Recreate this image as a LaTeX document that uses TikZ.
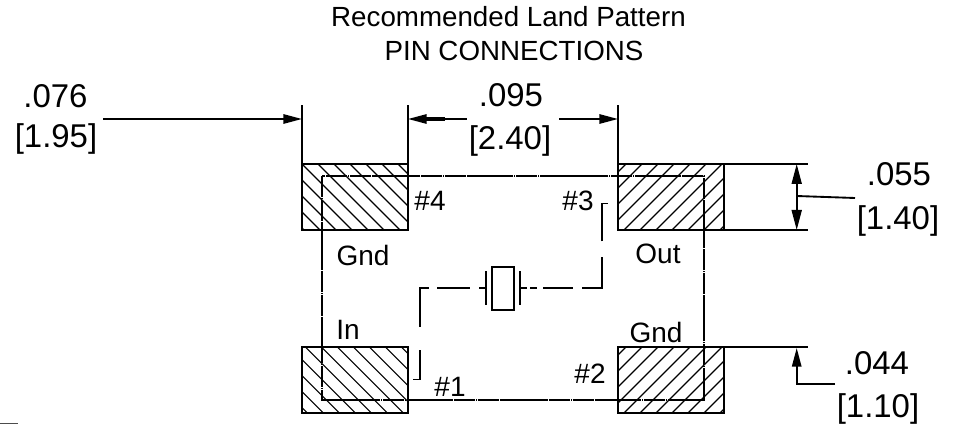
\documentclass[tikz,border=0pt]{standalone}
\usepackage{fontspec}
\setmainfont{Liberation Sans}
\usetikzlibrary{arrows.meta}
\tikzset{
  x=0.75pt,y=-0.75pt,
  hatchline/.style={line width=0.9pt,black},
  padbase/.style={draw=black,line width=1.6pt,minimum width=79.5pt,minimum height=49pt,inner sep=0pt,outer sep=0pt},
  padA/.style={padbase,path picture={
    \foreach \k in {-6,...,8}
      \draw[hatchline] ([xshift=#1*0.75pt+\k*12pt]path picture bounding box.north west) -- ++(100,100);}},
  padB/.style={padbase,path picture={
    \foreach \k in {-2,...,12}
      \draw[hatchline] ([xshift=#1*0.75pt+\k*12pt]path picture bounding box.north west) -- ++(-100,100);}},
  outline/.style={line width=1.2pt,dash pattern=on 16pt off 0.4pt on 1pt off 0.4pt},
  wire/.style={line width=1.3pt,line cap=butt,line join=miter},
  dimline/.style={line width=1.4pt},
  tiph/.style={-{Triangle[length=14pt,width=7pt]}},
  tipboth/.style={{Triangle[length=15pt,width=7.5pt]}-{Triangle[length=15pt,width=7.5pt]}},
  tipv/.style={-{Triangle[length=14pt,width=7pt]}},
  dimtext/.style={font=\fontsize{24.7}{24.7}\selectfont,anchor=base,inner sep=0pt,text=black},
  lbl/.style={font=\fontsize{21}{21}\selectfont,anchor=base,inner sep=0pt,text=black},
  titletext/.style={font=\fontsize{20.8}{20.8}\selectfont,anchor=base,inner sep=0pt,text=black},
}
\begin{document}
\begin{tikzpicture}
\useasboundingbox (0,0) rectangle (957,424);
% pads
\node[padA=0.3] (p4) at (355,197) {};
\node[padB=7.7] (p3) at (671,197) {};
\node[padA=3.7] (p1) at (355,380) {};
\node[padB=7.7] (p2) at (671,380) {};
% package outline
\draw[outline] (322,176) rectangle (704,400);
% crystal
\node[draw=black,line width=1.3pt,minimum width=17pt,minimum height=32pt,inner sep=0pt,outer sep=0pt] (xtal) at (503,288.5) {};
\coordinate (plL1) at (486,271); \coordinate (plL2) at (486,305);
\coordinate (plR1) at (520,271); \coordinate (plR2) at (520,305);
\draw[wire] (plL1) -- (plL2);
\draw[wire] (plR1) -- (plR2);
% dashed wire
\draw[wire] (413,379.5) -- (420,379.5) -- (420,350);
\draw[wire] (420,326.5) -- (420,288) -- (429,288);
\draw[wire] (437,288) -- (470,288);
\draw[wire] (479,288) -- (486,288);
\draw[wire] (520,288) -- (527,288);
\draw[wire] (530,288) -- (537,288);
\draw[wire] (543,288) -- (573,288);
\draw[wire] (582,288) -- (602,288) -- (602,257);
\draw[wire] (602,241.5) -- (602,203.5) -- (608,203.5);
% extension lines
\draw[dimline] (p4.north west) -- +(0,-59) coordinate (e1);
\draw[dimline] (p4.north east) -- +(0,-59) coordinate (e2);
\draw[dimline] (p3.north west) -- +(0,-59) coordinate (e3);
\draw[dimline] (p3.north east) -- +(84,0) coordinate (e4);
\draw[dimline] (p3.south east) -- +(84,0) coordinate (e5);
\draw[dimline] (p2.north east) -- +(84,0) coordinate (e6);
% text
\node[titletext] (t1) at (508.5,27) {Recommended Land Pattern};
\node[titletext] (t2) at (514,61) {PIN CONNECTIONS};
\node[dimtext] (d076) at (55.5,108) {.076};
\node[dimtext] (d195) at (56,148) {[1.95]};
\node[dimtext] (d095) at (511,107) {.095};
\node[dimtext] (d240) at (510,150) {[2.40]};
\node[dimtext] (d055) at (899,186) {.055};
\node[dimtext] (d140) at (898,229) {[1.40]};
\node[dimtext] (d044) at (877,374) {.044};
\node[dimtext] (d110) at (878,417) {[1.10]};
\node[lbl] at (430,210) (n4) {\#4};
\node[lbl] at (578,210) (n3) {\#3};
\node[lbl] at (363,265) (g1) {Gnd};
\node[lbl] at (658,263) (o1) {Out};
\node[lbl] at (348,339) (i1) {In};
\node[lbl] at (656,342) (g2) {Gnd};
\node[lbl] at (450,396) (n1) {\#1};
\node[lbl] at (590,383) (n2) {\#2};
% dimension lines
\coordinate (a1) at (103,119); \coordinate (a2) at (302,119);
\draw[dimline,tiph] (a1) -- (a2);
\coordinate (b1) at (466.5,119); \coordinate (b2) at (408,119); \coordinate (b3) at (445,119);
\draw[dimline,tiph] (b1) -- (b2);
\draw[line width=2.4pt] (b3) -- (425,119);
\coordinate (c1) at (559,119); \coordinate (c2) at (618,119);
\draw[dimline,tiph] (c1) -- (c2);
\coordinate (v1) at (796.7,164); \coordinate (v2) at (796.7,230);
\draw[dimline,tipboth] (v1) -- (v2);
\coordinate (l1) at (796.7,196); \coordinate (l2) at (855,198);
\draw[dimline] (l1) -- (l2);
\coordinate (w1) at (835,384); \coordinate (w2) at (796.7,384); \coordinate (w3) at (796.7,348);
\draw[dimline,tipv] (w1) -- (w2) -- (w3);
% edge artefact
\coordinate (s1) at (0,423.3); \coordinate (s2) at (18,423.3);
\draw[line width=0.7pt,black!70] (s1) -- (s2);
\end{tikzpicture}
\end{document}
